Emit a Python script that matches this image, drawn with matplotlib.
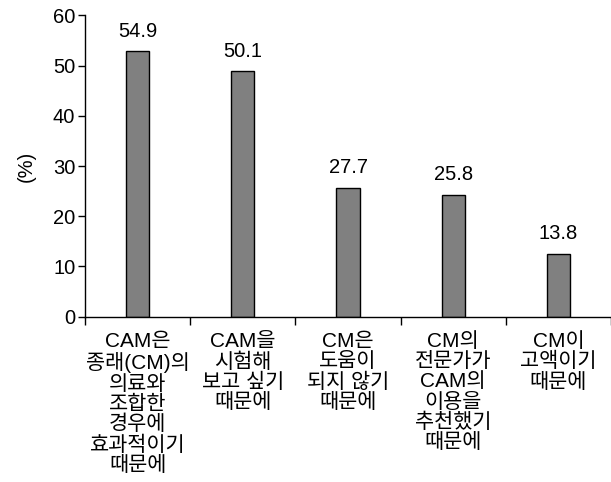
import matplotlib
matplotlib.use("Agg")
import matplotlib.pyplot as plt
import numpy as np

categories = [
    "CAM은\n종래(CM)의\n의료와\n조합한\n경우에\n효과적이기\n때문에",
    "CAM을\n시험해\n보고 싶기\n때문에",
    "CM은\n도움이\n되지 않기\n때문에",
    "CM의\n전문가가\nCAM의\n이용을\n추천했기\n때문에",
    "CM이\n고액이기\n때문에",
]
bar_heights = [52.8, 48.9, 25.7, 24.3, 12.5]
value_labels = ["54.9", "50.1", "27.7", "25.8", "13.8"]
yticks = [0, 10, 20, 30, 40, 50, 60]

plt.rcParams['font.family'] = ['Liberation Sans', 'Noto Sans CJK KR', 'DejaVu Sans']

fig = plt.figure(figsize=(6.11, 4.82), dpi=100)
ax = fig.add_axes([85/611, 165.3/482, 1 - 85/611, (316.7 - 15.3)/482])

x = np.arange(len(categories))
bars = ax.bar(x, bar_heights, width=0.22, color="#808080", edgecolor="black", linewidth=1.0)

for xi, h, lab in zip(x, bar_heights, value_labels):
    ax.annotate(lab, (xi, h), xytext=(0, 7.5), textcoords="offset points",
                ha="center", va="bottom", fontsize=14.5, color="black")

ax.set_xlim(-0.5, len(categories) - 0.5)
ax.set_ylim(0, 60)
ax.set_yticks(yticks)
ax.set_yticklabels([str(t) for t in yticks], fontsize=14.5)
ax.set_xticks(x)
ax.set_xticklabels(categories, fontsize=15, linespacing=1.08,
                   family=['Liberation Sans', 'Noto Sans CJK KR'])
ax.set_xticks(np.arange(-0.5, len(categories) + 0.5, 1.0), minor=True)
ax.tick_params(axis='x', which='major', length=0, pad=11)
ax.tick_params(axis='x', which='minor', length=6, width=1.0, direction='out')
ax.tick_params(axis='y', length=5, width=1.0, direction='out', pad=2)

ax.spines['top'].set_visible(False)
ax.spines['right'].set_visible(False)
ax.spines['left'].set_linewidth(1.0)
ax.spines['bottom'].set_linewidth(1.0)

ax.set_ylabel("(%)", fontsize=14.5, labelpad=12)

fig.savefig("out.png", dpi=100)
